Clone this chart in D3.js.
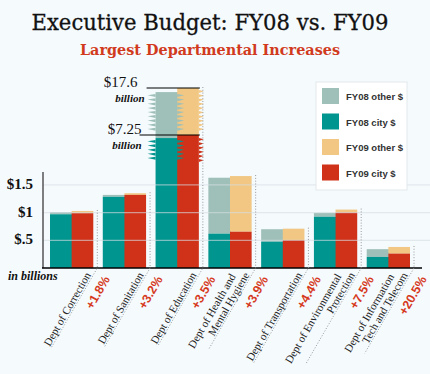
<!DOCTYPE html>
<html>
<head>
<meta charset="utf-8">
<script src="https://cdn.jsdelivr.net/npm/d3@7"></script>
<style>
  body { margin: 0; background: #f5fafd; }
  svg { display: block; }
</style>
</head>
<body>
<svg></svg>
<script>
let width = 430;
let height = 374;

// departments, in chart order
let depts = ['Correction', 'Sanitation', 'Education', 'Health', 'Transportation', 'Environment', 'IT'];
let deptLabels = [
  ['Dept of Correction'],
  ['Dept of Sanitation'],
  ['Dept of Education'],
  ['Dept of Health and', 'Mental Hygiene'],
  ['Dept of Transportation'],
  ['Dept of Environmental', 'Protection'],
  ['Dept of Information', 'Tech and Telecom'],
];
let changes = ['+1.8%', '+3.2%', '+3.5%', '+3.9%', '+4.4%', '+7.5%', '+20.5%'];

// billions of dollars
let fy08City = [0.97, 1.285, 6.6, 0.62, 0.475, 0.925, 0.2];
let fy08Other = [0.04, 0.035, 10.1, 1.01, 0.225, 0.07, 0.14];
let fy09City = [0.99, 1.32, 7.25, 0.655, 0.505, 1.0, 0.26];
let fy09Other = [0.04, 0.03, 10.35, 1.005, 0.205, 0.055, 0.12];

let yTicks = [0.5, 1, 1.5];
let yTickLabels = ['$.5', '$1', '$1.5'];
// the axis is broken above this value for the Education bars
let breakStart = 1.95;
let breakMarks = [7.25, 17.6];
let breakLabels = ['$7.25', '$17.6'];

let seriesNames = ['FY08 other $', 'FY08 city $', 'FY09 other $', 'FY09 city $'];
let colors = ['#9fc0b9', '#00958e', '#f1c783', '#cf3219'];

let svg = d3.select('svg').attr('width', width).attr('height', height);

let x = d3.scaleBand().domain(depts).range([50, 410]).paddingInner(0.18);
let xInner = d3.scaleBand().domain(['FY08', 'FY09']).range([0, x.bandwidth()]);
let y = d3
  .scaleLinear()
  .domain([0, breakStart, breakMarks[0], breakMarks[1]])
  .range([268, 160, 135, 88]);

let rows = depts.map((d, i) => ({
  dept: d,
  i: i,
  fy08: [fy08City[i], fy08Other[i]],
  fy09: [fy09City[i], fy09Other[i]],
}));

// titles
svg
  .append('text')
  .attr('x', 210)
  .attr('y', 30)
  .attr('text-anchor', 'middle')
  .attr('textLength', 357)
  .attr('lengthAdjust', 'spacingAndGlyphs')
  .style('font', '22px "DejaVu Serif"')
  .style('fill', '#111')
  .style('stroke', '#111')
  .style('stroke-width', 0.3)
  .text('Executive Budget: FY08 vs. FY09');

svg
  .append('text')
  .attr('x', 210)
  .attr('y', 55)
  .attr('text-anchor', 'middle')
  .attr('textLength', 260)
  .attr('lengthAdjust', 'spacingAndGlyphs')
  .style('font', 'bold 15px "DejaVu Serif"')
  .style('fill', '#d13a1c')
  .text('Largest Departmental Increases');

// bars
let groups = svg
  .selectAll('g.dept')
  .data(rows)
  .enter()
  .append('g')
  .attr('class', 'dept')
  .attr('transform', (d) => `translate(${x(d.dept)},0)`);

function stackBar(sel, key, cityColor, otherColor) {
  let k = key.toLowerCase();
  let w = xInner.bandwidth() + (key === 'FY08' ? 1 : 0);
  sel
    .append('rect')
    .attr('x', xInner(key))
    .attr('width', w)
    .attr('y', (d) => y(d[k][0] + d[k][1]))
    .attr('height', (d) => y(d[k][0]) - y(d[k][0] + d[k][1]))
    .attr('fill', otherColor);
  sel
    .append('rect')
    .attr('x', xInner(key))
    .attr('width', w)
    .attr('y', (d) => y(d[k][0]))
    .attr('height', (d) => y(0) - y(d[k][0]))
    .attr('fill', cityColor);
}
stackBar(groups, 'FY08', colors[1], colors[0]);
stackBar(groups, 'FY09', colors[3], colors[2]);

// saw-tooth edges where the Education bars are cut
function teeth(x0, y0, y1, dir, depth) {
  let p = d3.path();
  for (let yy = y0; yy + 3 <= y1; yy += 4.2) {
    p.moveTo(x0, yy);
    p.lineTo(x0 + dir * depth, yy + 1.2);
    p.lineTo(x0, yy + 3);
    p.closePath();
  }
  return p.toString();
}
let ed = rows[2];
let ex = x(ed.dept);
let edTop08 = y(ed.fy08[0] + ed.fy08[1]);
let edTop09 = y(ed.fy09[0] + ed.fy09[1]);
let jag = [
  { d: teeth(ex, edTop08 + 2, y(breakMarks[0]) - 1, -1, 8), c: colors[0] },
  { d: teeth(ex, y(ed.fy08[0]) + 2, y(breakStart) + 2, -1, 8), c: colors[1] },
  { d: teeth(ex + xInner('FY09'), edTop08 + 2, y(breakMarks[0]) - 1, 1, 7), c: colors[0] },
  { d: teeth(ex + xInner('FY09'), y(ed.fy08[0]) + 2, y(breakStart), 1, 7), c: colors[1] },
  { d: teeth(ex + x.bandwidth(), edTop09 + 2, y(breakMarks[0]) - 1, 1, 5), c: colors[2] },
  { d: teeth(ex + x.bandwidth(), y(breakMarks[0]) + 3, y(breakStart) + 2, 1, 5), c: colors[3] },
];
svg
  .selectAll('path.jag')
  .data(jag)
  .enter()
  .append('path')
  .attr('class', 'jag')
  .attr('d', (d) => d.d)
  .attr('fill', (d) => d.c);

// break lines and labels
svg
  .selectAll('line.brk')
  .data(breakMarks)
  .enter()
  .append('line')
  .attr('class', 'brk')
  .attr('x1', (d, i) => (i === 0 ? ex - 16 : ex - 9))
  .attr('x2', ex + x.bandwidth() + 1)
  .attr('y1', (d) => y(d))
  .attr('y2', (d) => y(d))
  .attr('stroke', '#000')
  .attr('stroke-width', 1.2);

svg
  .selectAll('text.brk')
  .data(breakMarks)
  .enter()
  .append('text')
  .attr('class', 'brk')
  .attr('x', (d, i) => (i === 0 ? ex - 14 : ex - 18))
  .attr('y', (d) => y(d) - 1)
  .attr('text-anchor', 'end')
  .style('font', '15px "Liberation Serif"')
  .style('fill', '#111')
  .text((d, i) => breakLabels[i]);

svg
  .selectAll('text.bil')
  .data(breakMarks)
  .enter()
  .append('text')
  .attr('class', 'bil')
  .attr('x', (d, i) => (i === 0 ? ex - 14 : ex - 11))
  .attr('y', (d) => y(d) + 14)
  .attr('text-anchor', 'end')
  .style('font', 'italic bold 11px "Liberation Serif"')
  .style('fill', '#111')
  .text('billion');

// gridlines sit over the bars
svg
  .selectAll('line.grid')
  .data(yTicks)
  .enter()
  .append('line')
  .attr('class', 'grid')
  .attr('x1', 43)
  .attr('x2', width)
  .attr('y1', (d) => y(d))
  .attr('y2', (d) => y(d))
  .attr('stroke', '#d5dde2')
  .attr('stroke-opacity', 0.6)
  .attr('stroke-width', 1.2);

svg
  .selectAll('text.tick')
  .data(yTicks)
  .enter()
  .append('text')
  .attr('class', 'tick')
  .attr('x', 33)
  .attr('y', (d) => y(d) + 4)
  .attr('text-anchor', 'end')
  .style('font', 'bold 15px "Liberation Serif"')
  .style('fill', '#111')
  .text((d, i) => yTickLabels[i]);

svg
  .append('line')
  .attr('x1', 43)
  .attr('x2', 43)
  .attr('y1', 172)
  .attr('y2', y(0))
  .attr('stroke', '#555')
  .attr('stroke-width', 1.5);

svg
  .append('line')
  .attr('x1', 42)
  .attr('x2', 422)
  .attr('y1', y(0))
  .attr('y2', y(0))
  .attr('stroke', '#000')
  .attr('stroke-width', 1.6);

svg
  .append('text')
  .attr('x', 8)
  .attr('y', 280)
  .style('font', 'italic bold 12px "Liberation Serif"')
  .style('fill', '#111')
  .text('in billions');

// category labels with dotted leaders
let sin = Math.sin(Math.PI / 3);
let cos = Math.cos(Math.PI / 3);

rows.forEach((r) => {
  let dx = x(r.dept) + x.bandwidth() + 4;
  let top = y(r.fy09[0] + r.fy09[1]) - 1;

  let lab = svg
    .append('text')
    .attr('transform', `translate(${dx - 6},275) rotate(-60)`)
    .attr('text-anchor', 'end')
    .style('font', '11px "Liberation Serif"')
    .style('fill', '#222');
  let lines = deptLabels[r.i];
  lines.forEach((t, k) => {
    let near = k === lines.length - 1;
    lab
      .append('tspan')
      .attr('x', near ? 0 : -8)
      .attr('y', near ? 0 : -11)
      .text(t);
  });
  let len = d3.max(lab.selectAll('tspan').nodes(), (n) => n.getComputedTextLength()) + 10;

  svg
    .append('path')
    .attr('d', `M${dx},${top}L${dx},${y(0)}L${dx - len * cos},${y(0) + len * sin}`)
    .attr('fill', 'none')
    .attr('stroke', '#999')
    .attr('stroke-width', 1)
    .attr('stroke-dasharray', '1,1.8');

  svg
    .append('text')
    .attr('transform', `translate(${dx + 13},279) rotate(-60)`)
    .attr('text-anchor', 'end')
    .style('font', 'bold 12.5px "Liberation Sans"')
    .style('fill', '#d63a1d')
    .text(changes[r.i]);
});

// legend
let legend = svg.append('g').attr('transform', 'translate(316,82)');
legend
  .append('rect')
  .attr('width', 91)
  .attr('height', 108)
  .attr('fill', '#fff')
  .attr('stroke', '#e3e8ec');

let items = legend
  .selectAll('g')
  .data(seriesNames)
  .enter()
  .append('g')
  .attr('transform', (d, i) => `translate(6,${6 + i * 25.5})`);
items
  .append('rect')
  .attr('width', 17)
  .attr('height', 16)
  .attr('fill', (d, i) => colors[i]);
items
  .append('text')
  .attr('x', 24)
  .attr('y', 12)
  .style('font', 'bold 9.5px "Liberation Sans"')
  .style('fill', '#333')
  .text((d) => d);
</script>
</body>
</html>
